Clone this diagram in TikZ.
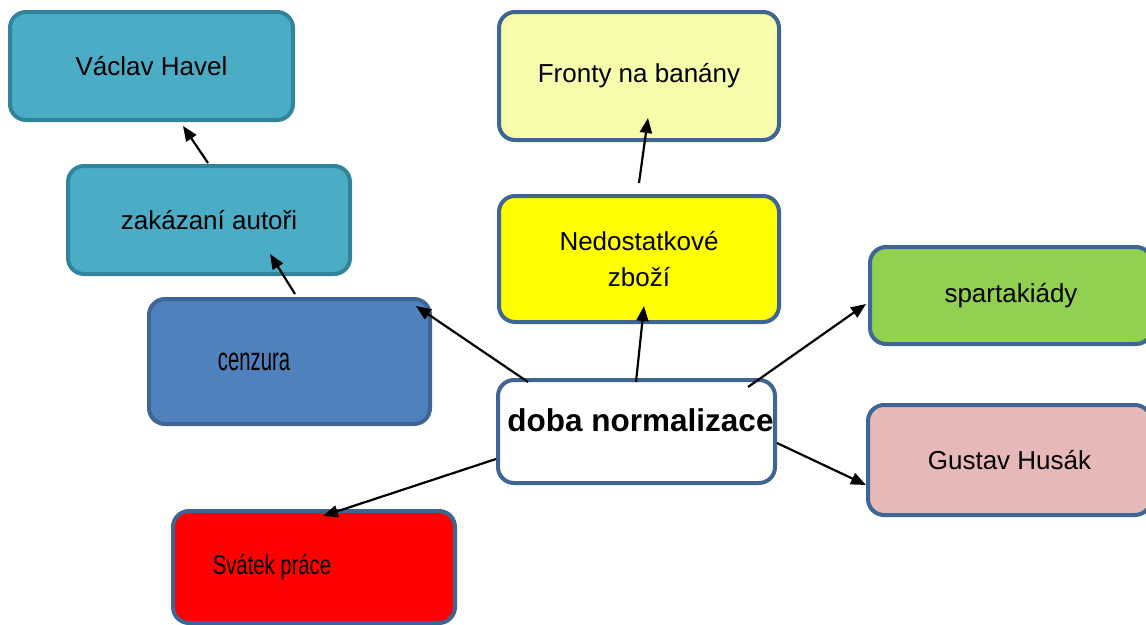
\documentclass[tikz,border=0pt]{standalone}
\usepackage{fontspec}
\setmainfont{Liberation Sans}
\usetikzlibrary{arrows.meta}
\definecolor{tealfill}{HTML}{4BACC6}
\definecolor{tealdraw}{HTML}{31849B}
\definecolor{bluefill}{HTML}{4F81BD}
\definecolor{bluedraw}{HTML}{3E6594}
\definecolor{paleyellow}{HTML}{F6FCA9}
\definecolor{brightyellow}{RGB}{255,255,0}
\definecolor{brightred}{RGB}{255,0,0}
\definecolor{greenfill}{HTML}{92D050}
\definecolor{pinkfill}{HTML}{E6B9B8}
\begin{document}
\begin{tikzpicture}[x=1pt,y=-1pt,
  box/.style={rounded corners=16pt, line width=4pt, inner sep=0pt, align=center,
    font=\fontsize{26}{36}\selectfont, text=black, draw=bluedraw},
  tealbox/.style={box, fill=tealfill, draw=tealdraw},
  arr/.style={line width=2.2pt, draw=black, -{Triangle[length=15pt,width=12pt]}}]
\useasboundingbox (0,0) rectangle (1146,624);
\clip (0,0) rectangle (1146,624);

\node[tealbox, minimum width=283pt, minimum height=108pt] (havel) at (151.5,66) {Václav Havel};
\node[tealbox, minimum width=282pt, minimum height=108pt] (autori) at (209,220) {zakázaní autoři};
\node[box, fill=bluefill, minimum width=281pt, minimum height=125pt] (cenzura) at (289.5,361.5) {\hbox{\kern-71pt\scalebox{0.78}[1.25]{cenzura}}};
\node[box, fill=paleyellow, minimum width=280pt, minimum height=128pt] (fronty) at (639,76) {Fronty na banány};
\node[box, fill=brightyellow, minimum width=280pt, minimum height=126pt] (zbozi) at (639,259) {Nedostatkové\\zboží};
\node[box, fill=white, minimum width=277pt, minimum height=103pt, font=\fontsize{31.5}{36}\bfseries] (doba) at (636.5,431.5) {\hbox{\kern8pt\raisebox{11.5pt}[\height][\depth]{doba normalizace}}};
\node[box, fill=greenfill, minimum width=282pt, minimum height=97pt] (sparta) at (1011,295.5) {spartakiády};
\node[box, fill=pinkfill, minimum width=283pt, minimum height=110pt] (husak) at (1009.5,460) {Gustav Husák};
\node[box, fill=brightred, minimum width=282pt, minimum height=112pt] (svatek) at (314,567) {\hbox{\kern-84pt\scalebox{0.78}[1.05]{Svátek práce}}};

\coordinate (a1s) at (208,163);
\coordinate (a1e) at (183,126);
\coordinate (a2s) at (295,294);
\coordinate (a2e) at (270,254);
\coordinate (a3s) at (528,382);
\coordinate (a3e) at (416,306);
\coordinate (a4s) at (636,382);
\coordinate (a4e) at (644,306);
\coordinate (a5s) at (639,183);
\coordinate (a5e) at (648,118);
\coordinate (a6s) at (748,387);
\coordinate (a6e) at (866,304);
\coordinate (a7s) at (777,443);
\coordinate (a7e) at (866,485);
\coordinate (a8s) at (496,459);
\coordinate (a8e) at (323,516);

\draw[arr] (a1s) -- (a1e);
\draw[arr] (a2s) -- (a2e);
\draw[arr] (a3s) -- (a3e);
\draw[arr] (a4s) -- (a4e);
\draw[arr] (a5s) -- (a5e);
\draw[arr] (a6s) -- (a6e);
\draw[arr] (a7s) -- (a7e);
\draw[arr] (a8s) -- (a8e);
\end{tikzpicture}
\end{document}
